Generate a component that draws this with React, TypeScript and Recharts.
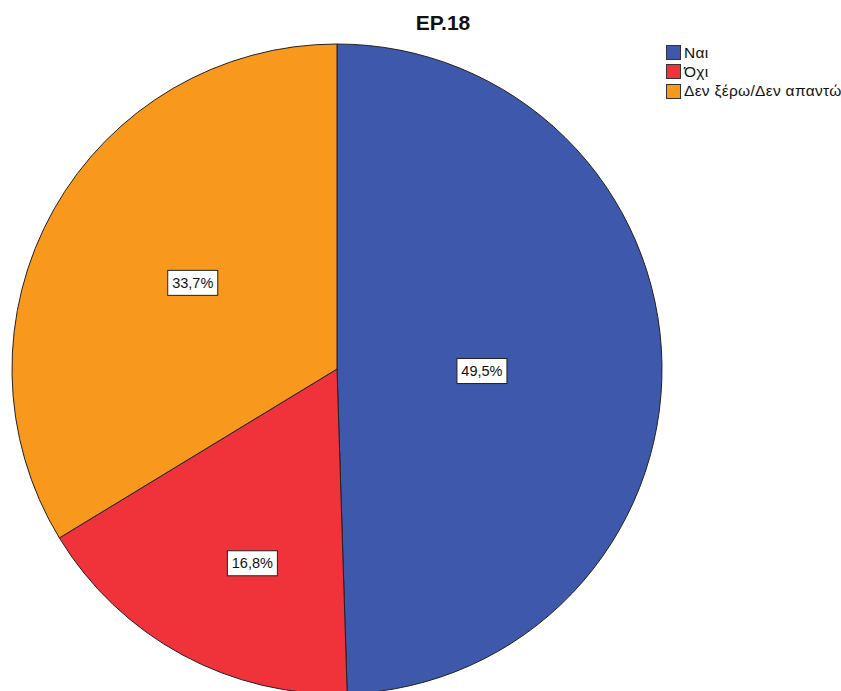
import { PieChart, Pie, Cell, Legend } from "recharts";

const categories = ["Ναι", "Όχι", "Δεν ξέρω/Δεν απαντώ"];
const percents = [49.5, 16.8, 33.7];
const sliceColors = ["#3e58ab", "#f0333b", "#f8981d"];

// placement of each percentage box: fraction of radius, and a small angular nudge (deg)
const labelRadius = [0.446, 0.652, 0.517];
const labelNudge = [-1.7, 4.9, -1.5];

const data = categories.map((name, i) => ({ name, value: percents[i] }));

const FONT = "Arial, 'Liberation Sans', sans-serif";

function PercentLabel(props: any) {
  const { cx, cy, midAngle, outerRadius, index, value } = props;
  const RAD = Math.PI / 180;
  const r = outerRadius * labelRadius[index];
  const a = midAngle + labelNudge[index];
  const x = cx + r * Math.cos(-a * RAD);
  const y = cy + r * Math.sin(-a * RAD);
  const text = value.toFixed(1).replace(".", ",") + "%";
  return (
    <g>
      <rect x={x - 25} y={y - 12.5} width={50} height={25} fill="#fff" stroke="#222" strokeWidth={1} />
      <text x={x} y={y + 5} textAnchor="middle" fontFamily={FONT} fontSize={14.5} fill="#111">
        {text}
      </text>
    </g>
  );
}

function LegendBox() {
  return (
    <div
      style={{
        fontFamily: FONT,
        fontSize: 15.5,
        letterSpacing: 0.3,
        lineHeight: 1,
        whiteSpace: "nowrap",
        color: "#111",
      }}
    >
      {categories.map((c, i) => (
        <div key={c} style={{ display: "flex", alignItems: "center", height: 19.3 }}>
          <div
            style={{
              flex: "none",
              width: 13,
              height: 13,
              background: sliceColors[i],
              border: "1px solid #333",
              marginRight: 3,
            }}
          />
          <span>{c}</span>
        </div>
      ))}
    </div>
  );
}

export default function App() {
  return (
    <div
      style={{
        position: "absolute",
        left: 0,
        top: 0,
        width: 841,
        height: 691,
        overflow: "hidden",
        background: "#fff",
      }}
    >
      <div
        style={{
          position: "absolute",
          left: 343,
          width: 200,
          top: 11,
          textAlign: "center",
          fontFamily: FONT,
          fontWeight: "bold",
          fontSize: 21,
          color: "#111",
        }}
      >
        EP.18
      </div>
      <PieChart width={841} height={691} margin={{ top: 0, right: 0, bottom: 0, left: 0 }}>
        <Pie
          data={data}
          dataKey="value"
          nameKey="name"
          cx={337}
          cy={369}
          outerRadius={325}
          startAngle={90}
          endAngle={-270}
          stroke="#222"
          strokeWidth={1}
          label={PercentLabel}
          labelLine={false}
          isAnimationActive={false}
        >
          {data.map((d, i) => (
            <Cell key={d.name} fill={sliceColors[i]} />
          ))}
        </Pie>
        <Legend
          content={<LegendBox />}
          wrapperStyle={{ position: "absolute", left: 666, top: 43, width: 175 }}
        />
      </PieChart>
    </div>
  );
}
